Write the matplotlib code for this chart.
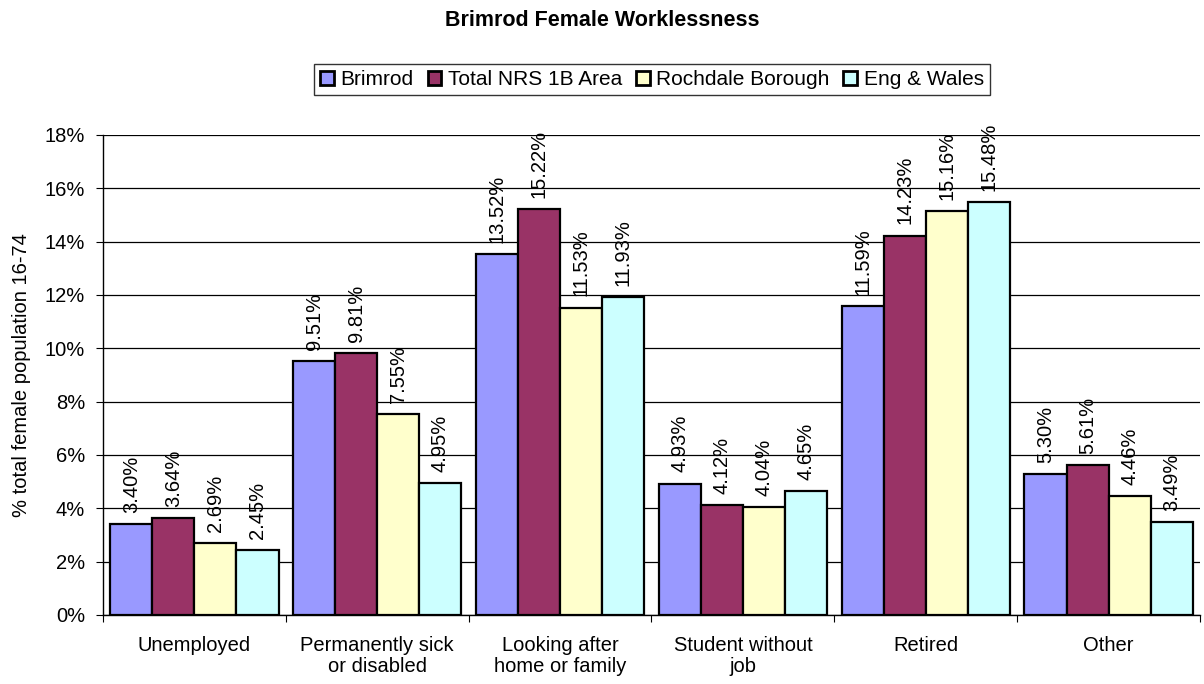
import matplotlib
matplotlib.use("Agg")
import matplotlib.pyplot as plt
import numpy as np
from matplotlib.ticker import PercentFormatter

plt.rcParams['font.family'] = ['Liberation Sans', 'DejaVu Sans']

categories = ['Unemployed', 'Permanently sick\nor disabled', 'Looking after\nhome or family',
              'Student without\njob', 'Retired', 'Other']
series = ['Brimrod', 'Total NRS 1B Area', 'Rochdale Borough', 'Eng & Wales']
brimrod = [3.40, 9.51, 13.52, 4.93, 11.59, 5.30]
nrs_1b = [3.64, 9.81, 15.22, 4.12, 14.23, 5.61]
rochdale = [2.69, 7.55, 11.53, 4.04, 15.16, 4.46]
eng_wales = [2.45, 4.95, 11.93, 4.65, 15.48, 3.49]
colours = ['#9999FF', '#993366', '#FFFFCC', '#CCFFFF']

data = [brimrod, nrs_1b, rochdale, eng_wales]

fig = plt.figure(figsize=(12.04, 6.84), dpi=100)
ax = fig.add_axes([103/1204, 69/684, (1200-103)/1204, 480/684])

x = np.arange(len(categories))
w = 0.23
for i, vals in enumerate(data):
    pos = x + (i - 1.5) * w
    ax.bar(pos, vals, width=w, color=colours[i], edgecolor='black', linewidth=1.6,
           label=series[i], zorder=3)
    for p, v in zip(pos, vals):
        ax.annotate('%.2f%%' % v, (p, v), xytext=(0, 8), textcoords='offset points',
                    rotation=90, ha='center', va='bottom', fontsize=14.5, zorder=4)

ax.set_xlim(-0.5, len(categories) - 0.5)
ax.set_ylim(0, 18)
ax.set_yticks(np.arange(0, 19, 2))
ax.yaxis.set_major_formatter(PercentFormatter(decimals=0))
ax.yaxis.grid(True, color='black', linewidth=0.9, zorder=0)
ax.set_ylabel('% total female population 16-74', fontsize=14.5, labelpad=10)

ax.set_xticks(np.arange(-0.5, len(categories)), minor=False)
ax.set_xticklabels([])
ax.set_xticks(x, minor=True)
ax.set_xticklabels(categories, minor=True, fontsize=14.5, linespacing=1.15)
ax.tick_params(axis='x', which='minor', length=0, pad=15)
ax.tick_params(axis='x', which='major', length=5, direction='out')
ax.tick_params(axis='y', length=5, direction='out', labelsize=14.5, pad=8)

for s in ['top', 'right']:
    ax.spines[s].set_visible(False)
ax.spines['left'].set_linewidth(1)
ax.spines['bottom'].set_linewidth(1)

fig.text(0.5, 1 - 20/684, 'Brimrod Female Worklessness', fontsize=15.5, fontweight='bold',
         ha='center', va='center')
leg = fig.legend(loc='center', bbox_to_anchor=(652/1204, 1 - 79.5/684), ncol=4,
                 fontsize=15, frameon=True, fancybox=False, edgecolor='black',
                 handlelength=0.67, handleheight=0.67, handletextpad=0.3,
                 columnspacing=0.67, borderpad=0.3, borderaxespad=0)
leg.get_frame().set_linewidth(1)
for h in leg.legend_handles:
    h.set_linewidth(2)

fig.savefig('out.png', dpi=100)
